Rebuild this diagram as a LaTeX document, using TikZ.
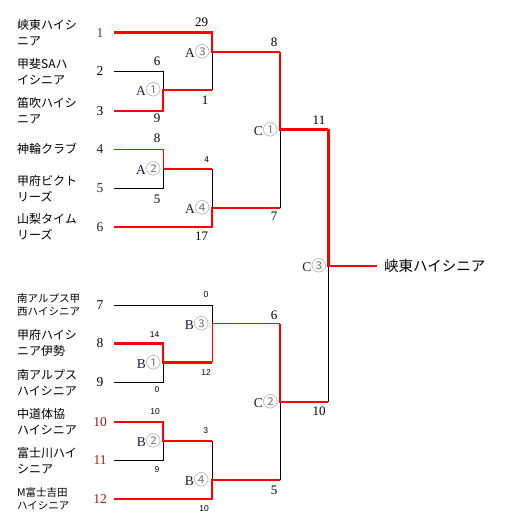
\documentclass[tikz,border=0pt]{standalone}
\usepackage{fontspec}
\setmainfont{Liberation Serif}
\newfontfamily\jpfont{Noto Sans CJK JP}
\newfontfamily\arialfont{Liberation Sans}
\definecolor{seedred}{RGB}{150,30,30}
\definecolor{roundblue}{RGB}{25,25,70}
\newcommand{\rnd}[2]{#1{\jpfont\fontsize{15}{15}\selectfont\color{gray}#2}}
\tikzset{
  team/.style={anchor=west, inner sep=0pt, align=left, font=\jpfont\fontsize{12}{16}\selectfont},
  smallteam/.style={team, font=\jpfont\fontsize{10.5}{12.5}\selectfont},
  seednum/.style={inner sep=0pt, font=\fontsize{13.5}{13.5}\selectfont},
  score/.style={inner sep=0pt, font=\fontsize{13}{13}\selectfont},
  sscore/.style={inner sep=0pt, font=\arialfont\fontsize{8.5}{8.5}\selectfont},
  roundlabel/.style={anchor=east, inner sep=0pt, text=roundblue, font=\fontsize{13.5}{13.5}\selectfont},
  loss/.style={line width=0.8pt},
  win/.style={red, line width=2.4pt},
  winthin/.style={red, line width=0.9pt},
}
\begin{document}
\begin{tikzpicture}[x=1pt, y=-1pt]
	\useasboundingbox (0,0) rectangle (504,527);
	% seeds and line starts
	\foreach \n/\y/\c in {1/32.7/seedred, 2/71.3/black, 3/110.7/black, 4/149.3/roundblue, 5/188.3/roundblue, 6/226.7/roundblue,
	                      7/305/black, 8/343.3/black, 9/382.3/black, 10/421.7/seedred, 11/460.3/seedred, 12/498.7/seedred} {
		\node[seednum, text=\c] (s\n) at (100,\y) {\n};
		\coordinate (p\n) at (114,\y);
	}
	
	% teams
	\node[team] (t1) at (17,32.7) {峡東ハイシ\\ニア};
	\node[team] (t2) at (17,71.3) {甲斐SAハ\\イシニア};
	\node[team] (t3) at (17,110.7) {笛吹ハイシ\\ニア};
	\node[team] (t4) at (17,149.3) {神輪クラブ};
	\node[team] (t5) at (17,188.3) {甲府ビクト\\リーズ};
	\node[team] (t6) at (17,226.7) {山梨タイム\\リーズ};
	\node[smallteam] (t7) at (17,305) {南アルプス甲\\西ハイシニア};
	\node[team] (t8) at (17,343.3) {甲府ハイシ\\ニア伊勢};
	\node[team] (t9) at (17,382.3) {南アルプス\\ハイシニア};
	\node[team] (t10) at (17,421.7) {中道体協\\ハイシニア};
	\node[team] (t11) at (17,460.3) {富士川ハイ\\シニア};
	\node[smallteam] (t12) at (17,498.7) {M富士吉田\\ハイシニア};
	
	% junctions
	\coordinate (A1) at (163,90);
	\coordinate (A2) at (163,169);
	\coordinate (A3) at (212,52);
	\coordinate (A4) at (212,208);
	\coordinate (B1) at (163,362.3);
	\coordinate (B2) at (163,440.7);
	\coordinate (B3) at (212,323.7);
	\coordinate (B4) at (212,479.7);
	\coordinate (C1) at (280,129.3);
	\coordinate (C2) at (280,401.7);
	\coordinate (C3) at (328.3,265.7);
	\node[anchor=west, inner sep=0pt, font=\jpfont\fontsize{14.5}{14.5}\selectfont] (champ) at (384,265.7) {峡東ハイシニア};
	
	% losing lines
	\draw[loss] (p2) -| (A1);
	\draw[loss] (A1 -| A3) -- (A3);
	\draw[loss] (p5) -| (A2);
	\draw[loss] (A2 -| A4) -- (A4);
	\draw[loss] (A4 -| C1) -- (C1);
	\draw[loss] (p9) -| (B1);
	\draw[loss] (p7) -| (B3);
	\draw[loss] (p11) -| (B2);
	\draw[loss] (B2 -| B4) -- (B4);
	\draw[loss] (B4 -| C2) -- (C2);
	\draw[loss] (C2 -| C3) -- (C3);
	
	% winning lines
	\draw[win] (p3) -| (A1) -- (A1 -| A3);
	\draw[win] (p1) -| (A3) -- (A3 -| C1);
	\draw[winthin] (p4) -| (A2);
	\draw[win] (A2) -- (A2 -| A4);
	\draw[win] (p6) -| (A4) -- (A4 -| C1);
	\draw[win] (A3 -| C1) -- (C1) -- (C1 -| C3);
	\draw[win] (p8) -| (B1) -- (B1 -| B3);
	\draw[winthin] (B1 -| B3) -- (B3) -- (B3 -| C2);
	\draw[win] (p10) -| (B2) -- (B2 -| B4);
	\draw[win] (p12) -| (B4) -- (B4 -| C2);
	\draw[win] (B3 -| C2) -- (C2) -- (C2 -| C3);
	\draw[win] (C1 -| C3) -- (C3) -- ([xshift=-7.3pt]champ.west);
	
	% round labels
	\node[roundlabel] (rA1) at (161,90) {\rnd{A}{①}};
	\node[roundlabel] (rA2) at (161,169) {\rnd{A}{②}};
	\node[roundlabel] (rA3) at (210,52) {\rnd{A}{③}};
	\node[roundlabel] (rA4) at (210,208) {\rnd{A}{④}};
	\node[roundlabel] (rB1) at (161,362.3) {\rnd{B}{①}};
	\node[roundlabel] (rB2) at (161,440.7) {\rnd{B}{②}};
	\node[roundlabel] (rB3) at (209,323.7) {\rnd{B}{③}};
	\node[roundlabel] (rB4) at (209,479.7) {\rnd{B}{④}};
	\node[roundlabel] (rC1) at (278,129.3) {\rnd{C}{①}};
	\node[roundlabel] (rC2) at (278,401.7) {\rnd{C}{②}};
	\node[roundlabel] (rC3) at (326.5,265.7) {\rnd{C}{③}};
	
	% scores
	\node[score] at (201.7,22.7) {29};
	\node[score] at (205,100) {1};
	\node[score] at (157,61.7) {6};
	\node[score] at (157,118.3) {9};
	\node[score] at (157,138.3) {8};
	\node[score] at (157,199) {5};
	\node[sscore] at (206.7,159.3) {4};
	\node[score] at (201.7,236.7) {17};
	\node[score] at (274,42) {8};
	\node[score] at (274,216.7) {7};
	\node[score] at (319,120) {11};
	\node[score] at (319,411.7) {10};
	\node[score] at (274,315) {6};
	\node[score] at (274,490) {5};
	\node[sscore] at (206,295) {0};
	\node[sscore] at (206,372.7) {12};
	\node[sscore] at (154.7,335) {14};
	\node[sscore] at (157,390) {0};
	\node[sscore] at (155,411.7) {10};
	\node[sscore] at (157,470) {9};
	\node[sscore] at (205.7,431) {3};
	\node[sscore] at (204,508.3) {10};
\end{tikzpicture}
\end{document}
